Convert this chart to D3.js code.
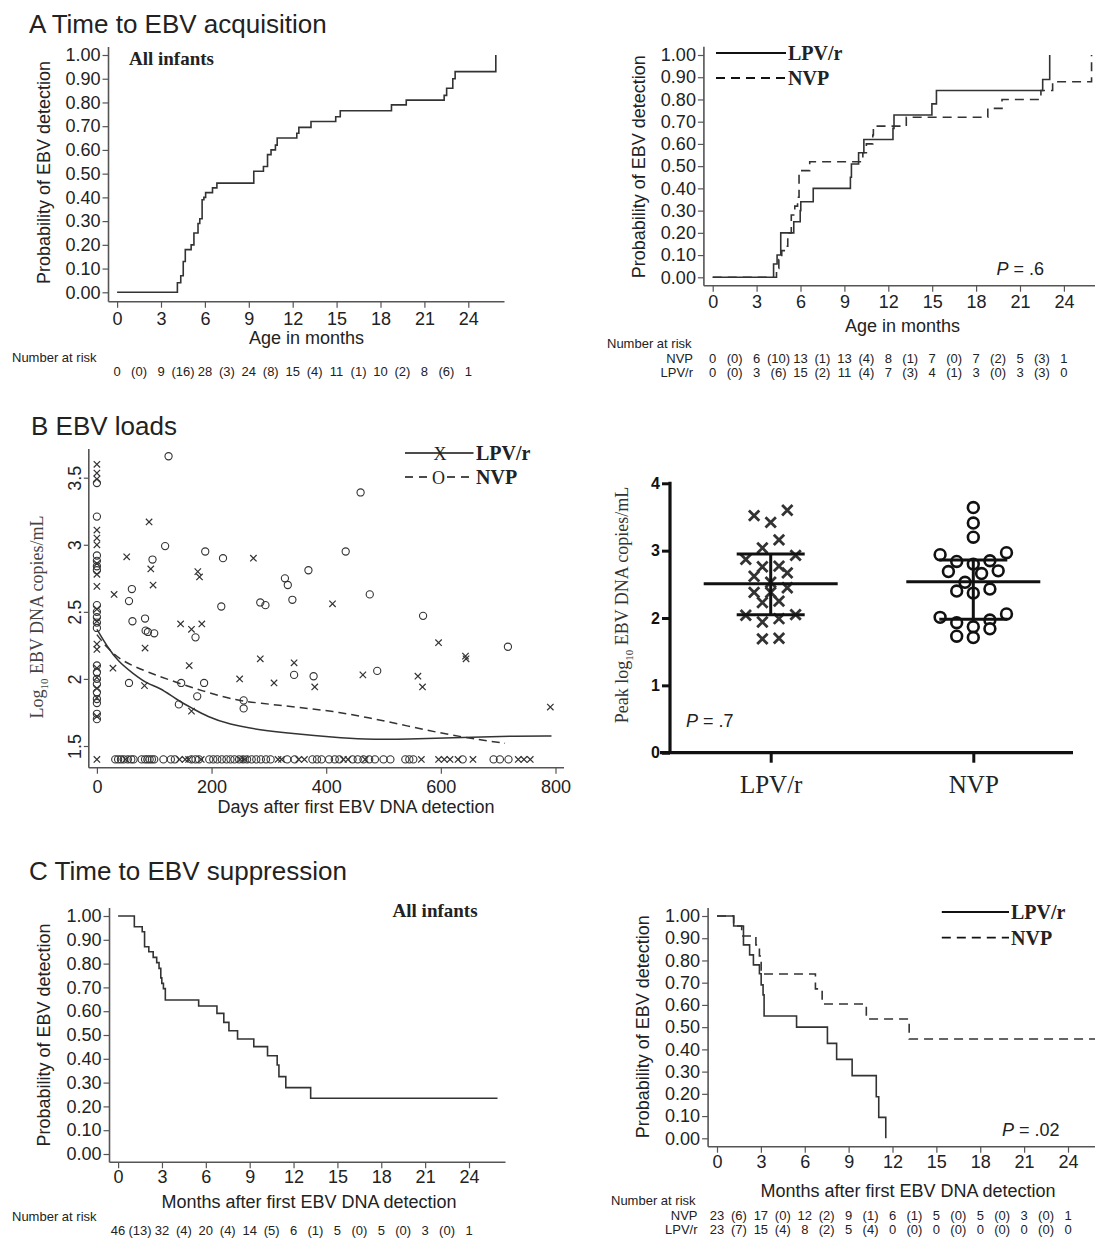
<!DOCTYPE html>
<html>
<head>
<meta charset="utf-8">
<script src="https://cdn.jsdelivr.net/npm/d3@7"></script>
<style>
body { margin: 0; background: #fff; }
svg { display: block; font-family: "Liberation Sans", Arial, sans-serif; }
</style>
</head>
<body>
<div id="fig"></div>
<script>
// ---------- data ----------
var probTicks = [0, 0.1, 0.2, 0.3, 0.4, 0.5, 0.6, 0.7, 0.8, 0.9, 1.0];
var monthTicks = [0, 3, 6, 9, 12, 15, 18, 21, 24];

// A: time to EBV acquisition (Kaplan-Meier, steps)
var acqAllTimes = [0, 4.12, 4.35, 4.52, 4.66, 5.06, 5.25, 5.53, 5.65, 5.81, 5.93, 6.05, 6.52, 6.82, 9.34, 10.0, 10.28, 10.52, 10.82, 10.94, 12.28, 12.42, 13.25, 14.94, 15.25, 18.75, 19.76, 22.35, 22.52, 22.94, 23.1, 25.88];
var acqAllProbs = [0, 0.04, 0.07, 0.13, 0.18, 0.20, 0.25, 0.29, 0.31, 0.39, 0.40, 0.42, 0.44, 0.46, 0.51, 0.53, 0.58, 0.60, 0.62, 0.65, 0.67, 0.695, 0.72, 0.74, 0.765, 0.79, 0.81, 0.83, 0.86, 0.90, 0.93, 1.00];
var acqLpvTimes = [0, 4.16, 4.4, 4.65, 5.54, 5.98, 6.02, 6.87, 9.41, 9.48, 9.97, 10.33, 12.32, 12.39, 14.98, 15.29, 22.55, 23.03];
var acqLpvProbs = [0, 0.06, 0.10, 0.20, 0.25, 0.30, 0.34, 0.40, 0.45, 0.51, 0.56, 0.62, 0.67, 0.73, 0.78, 0.84, 0.89, 1.00];
var acqNvpTimes = [0, 4.36, 4.52, 4.72, 4.89, 5.13, 5.37, 5.61, 5.8, 5.9, 6.63, 10.26, 10.5, 10.94, 10.98, 13.23, 18.8, 19.77, 22.43, 23.23, 25.89];
var acqNvpProbs = [0, 0.04, 0.08, 0.12, 0.14, 0.20, 0.28, 0.32, 0.36, 0.48, 0.52, 0.56, 0.60, 0.64, 0.68, 0.72, 0.76, 0.80, 0.84, 0.88, 1.00];

var acqAllRisk = [0, 9, 28, 24, 15, 11, 10, 8, 1];
var acqAllCens = [0, 16, 3, 8, 4, 1, 2, 6];
var acqNvpRisk = [0, 6, 13, 13, 8, 7, 7, 5, 1];
var acqNvpCens = [0, 10, 1, 4, 1, 0, 2, 3];
var acqLpvRisk = [0, 3, 15, 11, 7, 4, 3, 3, 0];
var acqLpvCens = [0, 6, 2, 4, 3, 1, 0, 3];

// C: time to EBV suppression
var supAllTimes = [0, 1.11, 1.65, 1.81, 2.1, 2.4, 2.64, 2.8, 2.92, 2.99, 3.1, 3.23, 5.51, 6.76, 7.23, 7.58, 8.17, 9.28, 10.22, 10.88, 11.0, 11.47, 13.17, 25.95];
var supAllProbs = [1, 0.955, 0.934, 0.871, 0.85, 0.826, 0.804, 0.78, 0.74, 0.717, 0.695, 0.647, 0.622, 0.591, 0.553, 0.518, 0.483, 0.451, 0.413, 0.374, 0.325, 0.279, 0.234, 0.234];
var supLpvTimes = [0, 1.14, 1.81, 2.23, 2.49, 2.9, 3.02, 3.15, 3.22, 5.44, 7.55, 8.18, 9.24, 10.89, 11.06, 11.54];
var supLpvProbs = [1, 0.955, 0.87, 0.825, 0.78, 0.74, 0.69, 0.645, 0.55, 0.50, 0.427, 0.355, 0.282, 0.187, 0.094, 0];
var supNvpTimes = [0, 1.14, 1.69, 2.66, 2.9, 3.02, 6.73, 7.19, 10.21, 13.14, 25.9];
var supNvpProbs = [1, 0.955, 0.91, 0.87, 0.82, 0.739, 0.672, 0.604, 0.537, 0.447, 0.447];

var supAllRisk = [46, 32, 20, 14, 6, 5, 5, 3, 1];
var supAllCens = [13, 4, 4, 5, 1, 0, 0, 0];
var supNvpRisk = [23, 17, 12, 9, 6, 5, 5, 3, 1];
var supNvpCens = [6, 0, 2, 1, 1, 0, 0, 0];
var supLpvRisk = [23, 15, 8, 5, 0, 0, 0, 0, 0];
var supLpvCens = [7, 4, 2, 4, 0, 0, 0, 0];

// B: EBV loads over time (log10 copies/mL)
var dayTicks = [0, 200, 400, 600, 800];
var loadTicks = [1.5, 2, 2.5, 3, 3.5];
var undetectableLoad = 1.4;

var lpvDays = [0, 0, 0, 0, 0, 0, 0, 0, 0, 0, 0, 0, 0, 0, 0, 0, 0, 0,
  28, 30, 52, 83, 84, 91, 94, 98, 146, 161, 165, 165, 176, 179, 183, 249, 273, 285, 309, 344, 380, 411, 464, 560, 568, 596, 643, 644, 791];
var lpvLoads = [3.60, 3.535, 3.49, 3.11, 3.05, 3.00, 2.86, 2.78, 2.69, 2.52, 2.43, 2.26, 2.22, 2.08, 2.01, 1.93, 1.86, 1.72,
  2.08, 2.63, 2.91, 1.95, 2.23, 3.17, 2.82, 2.70, 2.41, 2.10, 2.37, 1.76, 2.80, 2.76, 2.41, 2.00, 2.90, 2.15, 1.97, 2.12, 1.94, 2.56, 2.03, 2.02, 1.94, 2.27, 2.17, 2.15, 1.79];
var lpvUndetDays = [0, 50, 144, 154, 160, 182, 250, 258, 316, 322, 352, 362, 430, 438, 468, 566, 596, 606, 616, 630, 656, 735, 745, 756];

var nvpDays = [0, 0, 0, 0, 0, 0, 0, 0, 0, 0, 0, 0, 0, 0, 0, 0, 0, 0, 0, 0,
  56, 56, 61, 62, 84, 85, 89, 100, 97, 119, 125, 143, 147, 172, 175, 187, 189, 217, 220, 256, 256, 285, 294, 328, 333, 341, 344, 369, 378, 434, 460, 476, 489, 569, 717];
var nvpLoads = [3.46, 3.21, 2.92, 2.88, 2.84, 2.81, 2.55, 2.50, 2.46, 2.42, 2.38, 2.10, 2.05, 2.00, 1.96, 1.90, 1.85, 1.82, 1.74, 1.70,
  1.97, 2.58, 2.67, 2.43, 2.45, 2.36, 2.35, 2.34, 2.89, 2.99, 3.66, 1.81, 1.97, 2.31, 1.87, 1.97, 2.95, 2.54, 2.90, 1.84, 1.78, 2.57, 2.55, 2.75, 2.70, 2.59, 2.03, 2.81, 2.02, 2.95, 3.39, 2.63, 2.06, 2.47, 2.24];
var nvpUndetDays = [32, 37, 42, 47, 54, 60, 64, 78, 84, 88, 92, 96, 100, 116, 129, 136, 165, 172, 178, 196, 203, 210, 218, 226, 233, 240, 248, 255, 262, 270, 278, 286, 295, 303, 332, 345, 376, 384, 392, 405, 415, 423, 446, 455, 465, 475, 485, 500, 512, 538, 545, 552, 638, 692, 703, 718];

// smoothed (lowess) curves
var lpvSmoothDays = [0, 18, 37, 63, 89, 108, 141, 167, 192, 231, 283, 347, 412, 464, 541, 638, 735, 793];
var lpvSmoothLoads = [2.37, 2.24, 2.13, 2.04, 1.96, 1.94, 1.84, 1.78, 1.72, 1.66, 1.62, 1.59, 1.565, 1.55, 1.55, 1.565, 1.575, 1.575];
var nvpSmoothDays = [0, 18, 44, 89, 141, 192, 244, 283, 347, 412, 476, 541, 606, 670, 712];
var nvpSmoothLoads = [2.33, 2.23, 2.13, 2.05, 1.97, 1.90, 1.84, 1.82, 1.79, 1.76, 1.71, 1.65, 1.59, 1.545, 1.52];

// B right: peak loads
var arms = ["LPV/r", "NVP"];
var peakTicks = [0, 1, 2, 3, 4];
var lpvPeak = [3.60, 3.42, 3.52, 3.16, 3.04, 2.87, 2.93, 2.76, 2.77, 2.62, 2.67, 2.53, 2.45, 2.38, 2.38, 2.23, 2.25, 2.05, 1.99, 2.04, 1.94, 1.69, 1.70];
var nvpPeak = [3.64, 3.41, 3.20, 2.85, 2.80, 2.94, 2.97, 2.84, 2.69, 2.66, 2.70, 2.53, 2.43, 2.37, 2.40, 2.01, 2.06, 1.93, 1.97, 1.87, 1.84, 1.71, 1.73];
var peakMedian = [2.51, 2.54];
var peakLow = [2.05, 1.98];
var peakHigh = [2.95, 2.86];

// ---------- drawing ----------
var ink = "#222";
var lineCol = "#333";
var axisCol = "#555";
var serif = "'Liberation Serif', 'Times New Roman', serif";

var svg = d3.select("#fig").append("svg")
  .attr("width", 1095)
  .attr("height", 1239);

function panelTitle(txt, x, y){
  svg.append("text").attr("x", x).attr("y", y)
    .attr("font-size", 26).attr("fill", ink).text(txt);
}

function riskRow(x, risk, cens, yb){
  var items = [];
  risk.forEach(function(r, i){
    items.push({m: i * 3, t: String(r)});
    if (i < cens.length) items.push({m: i * 3 + 1.5, t: "(" + cens[i] + ")"});
  });
  svg.append("g").selectAll("text")
    .data(items).enter().append("text")
    .attr("x", function(d){ return x(d.m); })
    .attr("y", yb)
    .attr("text-anchor", "middle")
    .attr("font-size", 13)
    .attr("fill", ink)
    .text(function(d){ return d.t; });
}

function pValue(x, y, txt){
  var t = svg.append("text").attr("x", x).attr("y", y).attr("font-size", 18).attr("fill", ink);
  t.append("tspan").attr("font-style", "italic").text("P");
  t.append("tspan").text(" = " + txt);
}

function kmAxes(c){
  var x = d3.scaleLinear().domain([0, 24]).range([c.x0, c.x24]);
  var y = d3.scaleLinear().domain([0, 1]).range([c.y0, c.y1]);

  var ya = svg.append("g")
    .attr("transform", "translate(" + c.ax + ",0)")
    .call(d3.axisLeft(y).tickValues(probTicks).tickFormat(d3.format(".2f")).tickSize(6).tickPadding(2));
  ya.select(".domain").remove();
  ya.attr("font-size", 18).attr("font-family", null);
  ya.selectAll("line").attr("stroke", axisCol).attr("stroke-width", 1.2);
  ya.selectAll("text").attr("fill", ink);

  var xa = svg.append("g")
    .attr("transform", "translate(0," + c.ay + ")")
    .call(d3.axisBottom(x).tickValues(monthTicks).tickSize(6));
  xa.select(".domain").remove();
  xa.attr("font-size", 18).attr("font-family", null);
  xa.selectAll("line").attr("stroke", axisCol).attr("stroke-width", 1.2);
  xa.selectAll("text").attr("fill", ink).attr("dy", null).attr("y", c.tickOff);

  svg.append("line").attr("x1", c.ax).attr("x2", c.ax).attr("y1", c.top).attr("y2", c.ay)
    .attr("stroke", axisCol).attr("stroke-width", 1.6);
  svg.append("line").attr("x1", c.ax).attr("x2", c.right).attr("y1", c.ay).attr("y2", c.ay)
    .attr("stroke", axisCol).attr("stroke-width", 1.6);

  svg.append("text")
    .attr("transform", "translate(" + c.ytx + "," + c.yty + ") rotate(-90)")
    .attr("text-anchor", "middle").attr("dy", "0.35em")
    .attr("font-size", 18).attr("fill", ink)
    .text("Probability of EBV detection");
  svg.append("text").attr("x", c.xtx).attr("y", c.xty)
    .attr("text-anchor", "middle").attr("font-size", 18).attr("fill", ink)
    .text(c.xtitle);
  return {x: x, y: y};
}

function kmLine(s, times, probs, dash){
  var line = d3.line().curve(d3.curveStepAfter)
    .x(function(d){ return s.x(d[0]); })
    .y(function(d){ return s.y(d[1]); });
  svg.append("path")
    .datum(d3.zip(times, probs))
    .attr("d", line)
    .attr("fill", "none")
    .attr("stroke", lineCol)
    .attr("stroke-width", 1.6)
    .attr("stroke-dasharray", dash ? "9,6" : null);
}

function kmLegend(x1, x2, y1, y2){
  svg.append("line").attr("x1", x1).attr("x2", x2).attr("y1", y1).attr("y2", y1)
    .attr("stroke", "#111").attr("stroke-width", 1.8);
  svg.append("line").attr("x1", x1).attr("x2", x2).attr("y1", y2).attr("y2", y2)
    .attr("stroke", "#111").attr("stroke-width", 1.8).attr("stroke-dasharray", "9,6");
  svg.append("text").attr("x", x2 + 2).attr("y", y1 + 7).attr("font-family", serif)
    .attr("font-weight", "bold").attr("font-size", 20).attr("fill", ink).text("LPV/r");
  svg.append("text").attr("x", x2 + 2).attr("y", y2 + 7).attr("font-family", serif)
    .attr("font-weight", "bold").attr("font-size", 20).attr("fill", ink).text("NVP");
}

function allInfants(x, y){
  svg.append("text").attr("x", x).attr("y", y).attr("font-family", serif)
    .attr("font-weight", "bold").attr("font-size", 19).attr("fill", ink).text("All infants");
}

function riskLabel(x, y){
  svg.append("text").attr("x", x).attr("y", y).attr("font-size", 13).attr("fill", ink).text("Number at risk");
}

function rowLabel(x, y, t){
  svg.append("text").attr("x", x).attr("y", y).attr("text-anchor", "end")
    .attr("font-size", 13).attr("fill", ink).text(t);
}

// ===== A =====
panelTitle("A Time to EBV acquisition", 29, 33);

var aL = kmAxes({x0: 117.1, x24: 468.3, y0: 292.3, y1: 55, ax: 108.5, ay: 301.7, top: 47, right: 504.5,
  tickOff: 23.3, ytx: 44, yty: 172.5, xtx: 306.5, xty: 343.5, xtitle: "Age in months"});
kmLine(aL, acqAllTimes, acqAllProbs, false);
allInfants(129, 64.5);
riskLabel(12, 362);
riskRow(aL.x, acqAllRisk, acqAllCens, 376);

var aR = kmAxes({x0: 712.7, x24: 1063.9, y0: 277.3, y1: 55, ax: 703.9, ay: 285.7, top: 46.7, right: 1095,
  tickOff: 22.3, ytx: 639, yty: 166.7, xtx: 902.5, xty: 331.7, xtitle: "Age in months"});
kmLine(aR, acqNvpTimes, acqNvpProbs, true);
kmLine(aR, acqLpvTimes, acqLpvProbs, false);
kmLegend(716, 786, 53, 78);
pValue(996.6, 275, ".6");
riskLabel(607, 348);
rowLabel(693, 363, "NVP");
rowLabel(693, 377, "LPV/r");
riskRow(aR.x, acqNvpRisk, acqNvpCens, 363);
riskRow(aR.x, acqLpvRisk, acqLpvCens, 377);

// ===== B left: loads over time =====
panelTitle("B EBV loads", 31, 435);

var xB = d3.scaleLinear().domain([0, 800]).range([96.9, 555.5]);
var yB = d3.scaleLinear().domain([1.5, 3.5]).range([746, 477.7]);

var yaB = svg.append("g").attr("transform", "translate(88.8,0)")
  .call(d3.axisLeft(yB).tickValues(loadTicks).tickFormat(function(d){ return String(d); }).tickSize(5));
yaB.select(".domain").remove();
yaB.attr("font-size", 18).attr("font-family", null);
yaB.selectAll("line").attr("stroke", axisCol).attr("stroke-width", 1.2);
yaB.selectAll("text").attr("fill", ink).attr("x", 0).attr("y", -7.5).attr("dy", null)
  .attr("text-anchor", "middle").attr("transform", "rotate(-90)");

var xaB = svg.append("g").attr("transform", "translate(0,767.7)")
  .call(d3.axisBottom(xB).tickValues(dayTicks).tickSize(6));
xaB.select(".domain").remove();
xaB.attr("font-size", 18).attr("font-family", null);
xaB.selectAll("line").attr("stroke", axisCol).attr("stroke-width", 1.2);
xaB.selectAll("text").attr("fill", ink).attr("dy", null).attr("y", 25.6);

svg.append("line").attr("x1", 88.8).attr("x2", 88.8).attr("y1", 449).attr("y2", 767.7)
  .attr("stroke", axisCol).attr("stroke-width", 1.6);
svg.append("line").attr("x1", 88.8).attr("x2", 564).attr("y1", 767.7).attr("y2", 767.7)
  .attr("stroke", axisCol).attr("stroke-width", 1.6);

svg.append("text").attr("x", 356).attr("y", 813).attr("text-anchor", "middle")
  .attr("font-size", 18).attr("fill", ink).text("Days after first EBV DNA detection");

var ytB = svg.append("text")
  .attr("transform", "translate(37,617) rotate(-90)")
  .attr("text-anchor", "middle").attr("dy", "0.35em")
  .attr("font-family", serif).attr("font-size", 18).attr("fill", "#444");
ytB.append("tspan").text("Log");
ytB.append("tspan").attr("font-size", 11).attr("dy", 5).text("10");
ytB.append("tspan").attr("dy", -5).text(" EBV DNA copies/mL");

function cross(g, px, py, h, w){
  g.append("path")
    .attr("d", "M" + (px - h) + "," + (py - h) + "L" + (px + h) + "," + (py + h) +
               "M" + (px - h) + "," + (py + h) + "L" + (px + h) + "," + (py - h))
    .attr("stroke", lineCol).attr("stroke-width", w).attr("fill", "none");
}

var ptsB = svg.append("g");
d3.zip(nvpDays, nvpLoads).forEach(function(d){
  ptsB.append("circle").attr("cx", xB(d[0])).attr("cy", yB(d[1])).attr("r", 3.6)
    .attr("fill", "none").attr("stroke", lineCol).attr("stroke-width", 1.1);
});
nvpUndetDays.forEach(function(d){
  ptsB.append("circle").attr("cx", xB(d)).attr("cy", yB(undetectableLoad)).attr("r", 3.6)
    .attr("fill", "none").attr("stroke", lineCol).attr("stroke-width", 1.1);
});
d3.zip(lpvDays, lpvLoads).forEach(function(d){ cross(ptsB, xB(d[0]), yB(d[1]), 3.2, 1.2); });
lpvUndetDays.forEach(function(d){ cross(ptsB, xB(d), yB(undetectableLoad), 3.2, 1.2); });

var smooth = d3.line().curve(d3.curveBasis)
  .x(function(d){ return xB(d[0]); })
  .y(function(d){ return yB(d[1]); });
svg.append("path").datum(d3.zip(lpvSmoothDays, lpvSmoothLoads)).attr("d", smooth)
  .attr("fill", "none").attr("stroke", lineCol).attr("stroke-width", 1.5);
svg.append("path").datum(d3.zip(nvpSmoothDays, nvpSmoothLoads)).attr("d", smooth)
  .attr("fill", "none").attr("stroke", lineCol).attr("stroke-width", 1.5).attr("stroke-dasharray", "8,5");

// legend of B left
svg.append("line").attr("x1", 405).attr("x2", 473.5).attr("y1", 453).attr("y2", 453)
  .attr("stroke", "#111").attr("stroke-width", 1.6);
svg.append("line").attr("x1", 405).attr("x2", 473.5).attr("y1", 477).attr("y2", 477)
  .attr("stroke", "#111").attr("stroke-width", 1.6).attr("stroke-dasharray", "8,6");
svg.append("text").attr("x", 440).attr("y", 459.5).attr("text-anchor", "middle")
  .attr("font-family", serif).attr("font-size", 18).attr("fill", ink).text("X");
svg.append("rect").attr("x", 432).attr("y", 469).attr("width", 13).attr("height", 16).attr("fill", "#fff");
svg.append("text").attr("x", 438.5).attr("y", 483.5).attr("text-anchor", "middle")
  .attr("font-family", serif).attr("font-size", 18).attr("fill", ink).text("O");
svg.append("text").attr("x", 476).attr("y", 460).attr("font-family", serif)
  .attr("font-weight", "bold").attr("font-size", 20).attr("fill", ink).text("LPV/r");
svg.append("text").attr("x", 476).attr("y", 484).attr("font-family", serif)
  .attr("font-weight", "bold").attr("font-size", 20).attr("fill", ink).text("NVP");

// ===== B right: peak loads =====
var xP = d3.scalePoint().domain(arms).range([770.7, 973.3]);
var yP = d3.scaleLinear().domain([0, 4]).range([752.7, 483.3]);

var yaP = svg.append("g").attr("transform", "translate(670,0)")
  .call(d3.axisLeft(yP).tickValues(peakTicks).tickFormat(d3.format("d")).tickSize(8).tickPadding(2));
yaP.select(".domain").remove();
yaP.attr("font-size", 16).attr("font-family", null).attr("font-weight", "bold");
yaP.selectAll("line").attr("stroke", "#111").attr("stroke-width", 3);
yaP.selectAll("text").attr("fill", "#111");

svg.append("line").attr("x1", 670).attr("x2", 670).attr("y1", 481.7).attr("y2", 754)
  .attr("stroke", "#111").attr("stroke-width", 3.2);
svg.append("line").attr("x1", 660).attr("x2", 1073).attr("y1", 752.7).attr("y2", 752.7)
  .attr("stroke", "#111").attr("stroke-width", 3.2);

var xaP = svg.append("g").attr("transform", "translate(0,752.7)")
  .call(d3.axisBottom(xP).tickSize(10));
xaP.select(".domain").remove();
xaP.attr("font-size", 25).attr("font-family", serif);
xaP.selectAll("line").attr("stroke", "#111").attr("stroke-width", 3);
xaP.selectAll("text").attr("fill", ink).attr("dy", null).attr("y", 40.5);

var ytP = svg.append("text")
  .attr("transform", "translate(621.7,605) rotate(-90)")
  .attr("text-anchor", "middle").attr("dy", "0.35em")
  .attr("font-family", serif).attr("font-size", 18).attr("fill", "#333");
ytP.append("tspan").text("Peak log");
ytP.append("tspan").attr("font-size", 11).attr("dy", 5).text("10");
ytP.append("tspan").attr("dy", -5).text(" EBV DNA copies/mL");

pValue(686, 727, ".7");

// scatter-dot layout: points with close values share a row and are spread sideways
function swarm(values, cx, step, rowPx){
  var order = d3.range(values.length).sort(function(a, b){ return values[b] - values[a]; });
  var rows = [], cur = null;
  order.forEach(function(i){
    var py = yP(values[i]);
    if (!cur || py - cur.y0 > rowPx){ cur = {y0: py, idx: []}; rows.push(cur); }
    cur.idx.push(i);
  });
  var out = [];
  rows.forEach(function(r){
    var n = r.idx.length;
    // fill slots from the outside in, alternating right and left
    var slots = [], lo = 0, hi = n - 1;
    while (lo <= hi){
      slots.push(hi--);
      if (lo <= hi) slots.push(lo++);
    }
    r.idx.forEach(function(i, k){
      out.push([cx + (slots[k] - (n - 1) / 2) * step, yP(values[i])]);
    });
  });
  return out;
}

var ptsP = svg.append("g");
swarm(lpvPeak, xP("LPV/r"), 16.6, 13).forEach(function(p){ cross(ptsP, p[0], p[1], 5.2, 2.8); });
swarm(nvpPeak, xP("NVP"), 16.6, 13).forEach(function(p){
  ptsP.append("circle").attr("cx", p[0]).attr("cy", p[1]).attr("r", 5.4)
    .attr("fill", "#fff").attr("stroke", "#111").attr("stroke-width", 2.6);
});

arms.forEach(function(a, i){
  var cx = xP(a);
  var g = svg.append("g").attr("stroke", "#111").attr("stroke-width", 3);
  g.append("line").attr("x1", cx - 67).attr("x2", cx + 67).attr("y1", yP(peakMedian[i])).attr("y2", yP(peakMedian[i]));
  g.append("line").attr("x1", cx).attr("x2", cx).attr("y1", yP(peakHigh[i])).attr("y2", yP(peakLow[i]));
  g.append("line").attr("x1", cx - 34).attr("x2", cx + 34).attr("y1", yP(peakHigh[i])).attr("y2", yP(peakHigh[i]));
  g.append("line").attr("x1", cx - 34).attr("x2", cx + 34).attr("y1", yP(peakLow[i])).attr("y2", yP(peakLow[i]));
});

// ===== C =====
panelTitle("C Time to EBV suppression", 29, 880);

var cL = kmAxes({x0: 118.1, x24: 469, y0: 1154, y1: 916, ax: 109.5, ay: 1162.3, top: 908, right: 505.5,
  tickOff: 21, ytx: 44, yty: 1035, xtx: 309, xty: 1208.3, xtitle: "Months after first EBV DNA detection"});
kmLine(cL, supAllTimes, supAllProbs, false);
allInfants(392.6, 916.5);
riskLabel(12, 1221);
riskRow(cL.x, supAllRisk, supAllCens, 1235);

var cR = kmAxes({x0: 717, x24: 1068, y0: 1138.3, y1: 916, ax: 708.1, ay: 1146.7, top: 908, right: 1095,
  tickOff: 21.3, ytx: 642.7, yty: 1026.7, xtx: 908, xty: 1196.7, xtitle: "Months after first EBV DNA detection"});
kmLine(cR, supNvpTimes, supNvpProbs, true);
kmLine(cR, supLpvTimes, supLpvProbs, false);
kmLegend(941.8, 1009, 912, 937.7);
pValue(1002, 1136, ".02");
riskLabel(611, 1205);
rowLabel(697.5, 1220, "NVP");
rowLabel(697.5, 1234, "LPV/r");
riskRow(cR.x, supNvpRisk, supNvpCens, 1220);
riskRow(cR.x, supLpvRisk, supLpvCens, 1234);
</script>
</body>
</html>
